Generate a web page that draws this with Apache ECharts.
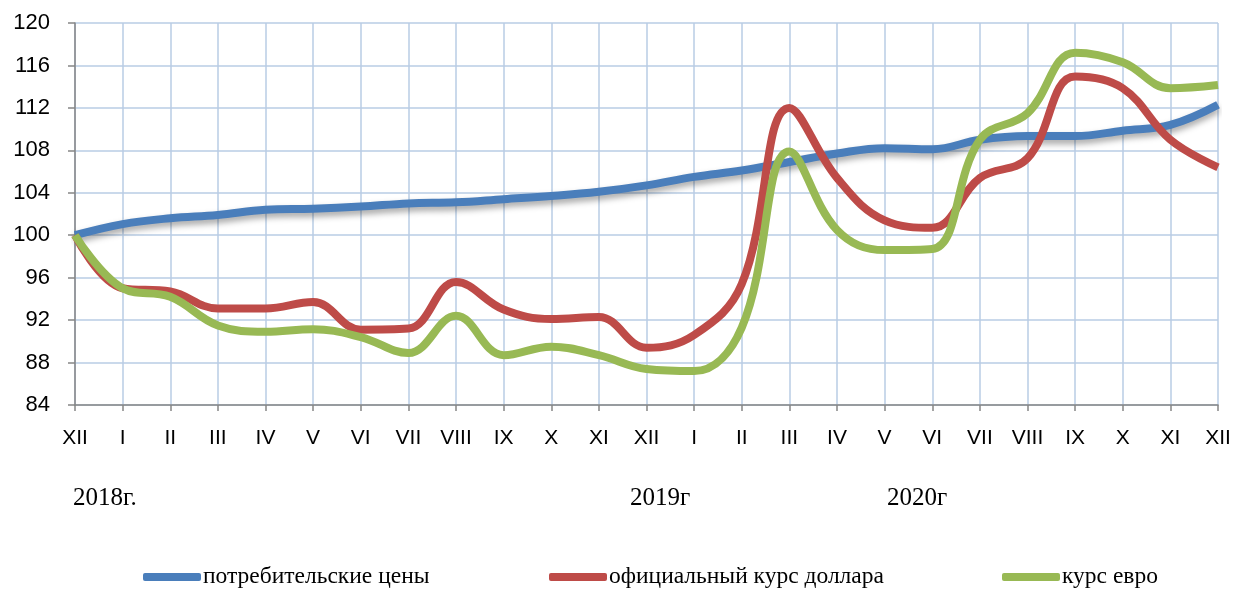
<!DOCTYPE html>
<html>
<head>
<meta charset="utf-8">
<script src="https://cdn.jsdelivr.net/npm/echarts@6/dist/echarts.min.js"></script>
<style>
html,body{margin:0;padding:0;background:#fff;}
#chart{width:1234px;height:589px;}
</style>
</head>
<body>
<div id="chart"></div>
<script>
const categories = ['XII','I','II','III','IV','V','VI','VII','VIII','IX','X','XI','XII','I','II','III','IV','V','VI','VII','VIII','IX','X','XI','XII'];
const yearLabels = ['2018г.','2019г','2020г'];
const seriesNames = ['потребительские цены','официальный курс доллара','курс евро'];
const cpi = [100, 101.05, 101.6, 101.9, 102.4, 102.5, 102.7, 103.0, 103.1, 103.4, 103.7, 104.1, 104.7, 105.5, 106.1, 106.9, 107.7, 108.2, 108.1, 109.0, 109.35, 109.35, 109.85, 110.4, 112.3];
const usd = [100, 95.0, 94.7, 93.1, 93.1, 93.7, 91.1, 91.2, 95.6, 93.0, 92.1, 92.3, 89.4, 90.6, 95.4, 112.0, 105.4, 101.4, 100.7, 105.4, 107.25, 114.95, 113.85, 109.0, 106.4];
const eur = [100, 95.0, 94.2, 91.5, 90.9, 91.15, 90.4, 88.9, 92.4, 88.7, 89.5, 88.7, 87.4, 87.2, 91.3, 107.9, 100.5, 98.6, 98.7, 109.0, 111.5, 117.2, 116.3, 113.85, 114.15];

const chart = echarts.init(document.getElementById('chart'));
const axisFont = '"Liberation Sans", Arial, sans-serif';
const serif = '"Liberation Serif", "Times New Roman", serif';
const colors = ['#4a7ebb', '#be4b48', '#98b954'];

function mkLegend(name, left) {
  return {
    data: [name], left: left, top: 565, itemWidth: 58, itemHeight: 8, itemGap: 0,
    icon: 'roundRect', padding: 0,
    textStyle: {fontFamily: serif, fontSize: 23.5, color: '#000', padding: [0,0,0,-3]}
  };
}

chart.setOption({
  animation: false,
  color: colors,
  grid: {left: 75, right: 16, top: 23, bottom: 184, containLabel: false},
  legend: [mkLegend(seriesNames[0], 143), mkLegend(seriesNames[1], 549), mkLegend(seriesNames[2], 1002)],
  xAxis: {
    type: 'category', data: categories, boundaryGap: false,
    axisLine: {lineStyle: {color: '#868686', width: 1.5}},
    axisTick: {show: true, length: 6, lineStyle: {color: '#868686', width: 1.5}},
    axisLabel: {interval: 0, color: '#000', fontFamily: axisFont, fontSize: 21, margin: 23},
    splitLine: {show: true, lineStyle: {color: '#b9cde5', width: 1.5}}
  },
  yAxis: {
    type: 'value', min: 84, max: 120, interval: 4,
    axisLine: {show: true, lineStyle: {color: '#868686', width: 1.5}},
    axisTick: {show: true, inside: false, length: 7, lineStyle: {color: '#868686', width: 1.5}},
    axisLabel: {color: '#000', fontFamily: axisFont, fontSize: 22, margin: 25},
    splitLine: {show: true, lineStyle: {color: '#b9cde5', width: 1.5}}
  },
  graphic: [
    {type: 'text', left: 73, top: 486, style: {text: yearLabels[0], font: '25px ' + serif, fill: '#000'}},
    {type: 'text', left: 630, top: 486, style: {text: yearLabels[1], font: '25px ' + serif, fill: '#000'}},
    {type: 'text', left: 887, top: 486, style: {text: yearLabels[2], font: '25px ' + serif, fill: '#000'}}
  ],
  series: [
    {name: seriesNames[0], type: 'line', data: cpi, smooth: 0.4, symbol: 'none', z: 3,
     lineStyle: {width: 8, color: colors[0], shadowColor: 'rgba(0,0,0,0.35)', shadowBlur: 6, shadowOffsetY: 4, cap: 'butt'}},
    {name: seriesNames[1], type: 'line', data: usd, smooth: 0.4, symbol: 'none', z: 4,
     lineStyle: {width: 8, color: colors[1]}},
    {name: seriesNames[2], type: 'line', data: eur, smooth: 0.4, symbol: 'none', z: 5,
     lineStyle: {width: 8, color: colors[2]}}
  ]
});
</script>
</body>
</html>
